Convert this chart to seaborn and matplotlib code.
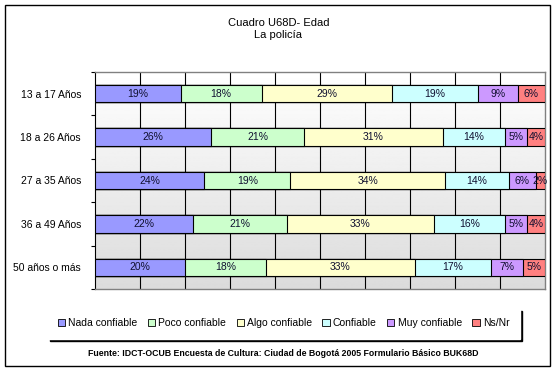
import matplotlib
matplotlib.use('Agg')
import matplotlib.pyplot as plt
import seaborn as sns
import pandas as pd
import numpy as np
from matplotlib.patches import Patch, Rectangle

grupos = ['13 a 17 Años', '18 a 26 Años', '27 a 35 Años', '36 a 49 Años', '50 años o más']
categorias = ['Nada confiable', 'Poco confiable', 'Algo confiable', 'Confiable', 'Muy confiable', 'Ns/Nr']
nada = [19, 26, 24, 22, 20]
poco = [18, 21, 19, 21, 18]
algo = [29, 31, 34, 33, 33]
confiable = [19, 14, 14, 16, 17]
muy = [9, 5, 6, 5, 7]
nsnr = [6, 4, 2, 4, 5]
colores = ['#9999FF', '#CCFFCC', '#FFFFCC', '#CCFFFF', '#CC99FF', '#FF8080']

df = pd.DataFrame({'Grupo': grupos, 'Nada confiable': nada, 'Poco confiable': poco,
                   'Algo confiable': algo, 'Confiable': confiable,
                   'Muy confiable': muy, 'Ns/Nr': nsnr})

vals = df[categorias].astype(float)
norm = vals.div(vals.sum(axis=1), axis=0) * 100   # barras apiladas al 100%
cum = norm.cumsum(axis=1)

plt.rcParams['font.family'] = ['Liberation Sans', 'DejaVu Sans']
fig = plt.figure(figsize=(5.57, 3.72), dpi=100)
ax = fig.add_axes([95 / 557, 1 - 289 / 372, 450 / 557, 217 / 372])

# fondo degradado blanco -> gris
grad = np.linspace(1.0, 0.86, 256).reshape(-1, 1)
ax.imshow(grad, cmap='gray', vmin=0, vmax=1, aspect='auto',
          extent=[0, 1, 0, 1], transform=ax.transAxes, zorder=0)

for i in range(len(categorias) - 1, -1, -1):
    sns.barplot(x=cum[categorias[i]], y=df['Grupo'], orient='h', color=colores[i],
                edgecolor='black', linewidth=0.8, width=0.4, saturation=1,
                ax=ax, zorder=3)

for g in range(len(grupos)):
    for i, cat in enumerate(categorias):
        centro = cum[cat].iloc[g] - norm[cat].iloc[g] / 2
        ax.text(centro, g, f'{int(vals[cat].iloc[g])}%', ha='center', va='center',
                fontsize=7.5, color='#101030', zorder=4)

ax.set_xlim(0, 100)
ax.set_ylim(len(grupos) - 0.5, -0.5)
for xv in range(10, 100, 10):
    ax.axvline(xv, color='black', linewidth=0.8, zorder=1)

ax.set_xticks([])
ax.set_xlabel('')
ax.set_ylabel('')
ax.set_yticks(range(len(grupos)))
ax.set_yticklabels(grupos, fontsize=7.5)
ax.set_yticks(np.arange(-0.5, len(grupos), 1), minor=True)
ax.tick_params(axis='y', which='major', length=0, pad=10)
ax.tick_params(axis='y', which='minor', length=3, width=0.8, direction='out')
for s in ['top', 'right', 'bottom']:
    ax.spines[s].set_color('#808080')
    ax.spines[s].set_linewidth(1)
ax.spines['left'].set_color('black')
ax.spines['left'].set_linewidth(0.8)

fig.text(0.5, 0.922, 'Cuadro U68D- Edad\nLa policía', ha='center', va='center',
         fontsize=8, linespacing=1.35)

handles = [Patch(facecolor=c, edgecolor='black', linewidth=0.6, label=l)
           for c, l in zip(colores, categorias)]
fig.legend(handles=handles, loc='center', bbox_to_anchor=(0.509, 0.131), ncol=6,
           fontsize=7.5, frameon=True, fancybox=False, edgecolor='white',
           shadow={'color': 'black', 'alpha': 1}, handlelength=0.7,
           handleheight=0.7, handletextpad=0.3, columnspacing=1.0,
           borderpad=1.0)

fig.text(0.508, 1 - 353 / 372,
         'Fuente: IDCT-OCUB Encuesta de Cultura: Ciudad de Bogotá 2005 Formulario Básico BUK68D',
         ha='center', va='center', fontsize=6.3, fontweight='bold')

fig.patches.append(Rectangle((5 / 557, 6 / 372), 545 / 557, 361 / 372,
                             transform=fig.transFigure, fill=False,
                             edgecolor='black', linewidth=1))

fig.savefig('out.png', dpi=100)
